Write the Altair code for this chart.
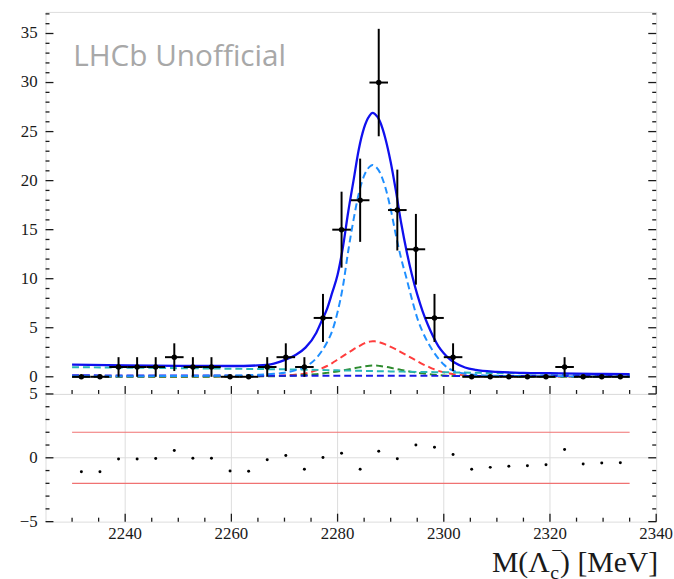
import altair as alt
import pandas as pd

# ---------------- data ----------------
bin_centers = [2231.75, 2235.25, 2238.75, 2242.25, 2245.75, 2249.25, 2252.75, 2256.25,
               2259.75, 2263.25, 2266.75, 2270.25, 2273.75, 2277.25, 2280.75, 2284.25,
               2287.75, 2291.25, 2294.75, 2298.25, 2301.75, 2305.25, 2308.75, 2312.25,
               2315.75, 2319.25, 2322.75, 2326.25, 2329.75, 2333.25]
counts = [0, 0, 1, 1, 1, 2, 1, 1, 0, 0, 1, 2, 1, 6, 15, 18, 30, 17, 13, 6, 2, 0, 0, 0, 0, 0, 1, 0, 0, 0]
pulls = [-1.09, -1.09, -0.10, -0.10, -0.05, 0.57, -0.03, -0.03, -1.03, -1.06,
         -0.16, 0.18, -0.90, 0.03, 0.36, -0.90, 0.52, -0.08, 1.01, 0.83,
         0.26, -0.90, -0.75, -0.67, -0.62, -0.54, 0.65, -0.49, -0.41, -0.39]

curve_x = [2230, 2240, 2250, 2260, 2265, 2268, 2270, 2272, 2274, 2276, 2277, 2278, 2279, 2280,
           2281, 2282, 2283, 2284, 2285, 2286, 2286.6, 2287, 2288, 2289, 2290, 2291, 2292,
           2293, 2294, 2295, 2296, 2297, 2298, 2299, 2300, 2301, 2302, 2304, 2306, 2310,
           2315, 2320, 2325, 2330, 2335]
total_fit = [1.25, 1.17, 1.12, 1.1, 1.16, 1.35, 1.7, 2.2, 3.0, 4.5, 5.7, 6.9, 8.6, 10.4,
             13.2, 16.8, 20.0, 23.2, 25.4, 26.6, 26.9, 26.8, 26.0, 24.3, 21.9, 18.9, 15.6,
             12.8, 10.4, 8.4, 6.7, 5.3, 4.1, 3.1, 2.4, 1.85, 1.45, 0.95, 0.7, 0.5,
             0.4, 0.36, 0.32, 0.3, 0.28]
signal_comp = [0.05, 0.06, 0.08, 0.12, 0.2, 0.3, 0.42, 0.65, 1.05, 1.9, 2.6, 3.5, 4.7, 6.6,
               9.2, 12.8, 16.0, 18.7, 20.5, 21.4, 21.6, 21.5, 20.8, 19.3, 17.1, 14.4, 12.0,
               10.0, 7.9, 6.0, 4.6, 3.5, 2.6, 1.86, 1.25, 0.82, 0.58, 0.32, 0.2, 0.1,
               0.07, 0.05, 0.04, 0.03, 0.03]
red_comp = [0.0, 0.0, 0.01, 0.03, 0.06, 0.1, 0.14, 0.22, 0.35, 0.65, 0.85, 1.1, 1.4, 1.75,
            2.1, 2.45, 2.8, 3.1, 3.4, 3.58, 3.63, 3.62, 3.5, 3.3, 3.05, 2.8, 2.5,
            2.2, 1.9, 1.6, 1.3, 1.05, 0.8, 0.6, 0.45, 0.35, 0.26, 0.15, 0.1, 0.05,
            0.03, 0.02, 0.01, 0.01, 0.0]
green_comp = [0.0, 0.0, 0.01, 0.02, 0.04, 0.06, 0.08, 0.12, 0.18, 0.27, 0.33, 0.4, 0.47, 0.55,
              0.64, 0.74, 0.85, 0.96, 1.06, 1.13, 1.15, 1.15, 1.1, 1.02, 0.92, 0.8, 0.7,
              0.6, 0.5, 0.42, 0.35, 0.28, 0.22, 0.17, 0.13, 0.1, 0.08, 0.05, 0.03, 0.02,
              0.01, 0.0, 0.0, 0.0, 0.0]
bkg_x = [2230, 2240, 2250, 2260, 2265, 2270, 2275, 2280, 2285, 2290, 2295, 2300, 2305,
         2310, 2315, 2320, 2325, 2330, 2335]
bkg_comp = [0.98, 0.93, 0.88, 0.82, 0.79, 0.76, 0.72, 0.66, 0.6, 0.55, 0.5, 0.46, 0.42,
            0.38, 0.35, 0.31, 0.28, 0.25, 0.22]
flat_x = [2230, 2260, 2290, 2335]
flat_comp = [0.15, 0.12, 0.10, 0.07]

x_major = [2240, 2260, 2280, 2300, 2320, 2340]
x_grid = [2240, 2260, 2280, 2300, 2320]
x_minor = [2230, 2235, 2245, 2250, 2255, 2265, 2270, 2275, 2285, 2290, 2295, 2305,
           2310, 2315, 2325, 2330, 2335]
y_major_top = [0, 5, 10, 15, 20, 25, 30, 35]
y_minor_top = [-1, 1, 2, 3, 4, 6, 7, 8, 9, 11, 12, 13, 14, 16, 17, 18, 19, 21, 22, 23, 24,
               26, 27, 28, 29, 31, 32, 33, 34, 36, 37]
y_major_res = [-5, 0, 5]
y_grid_res = [0]
y_minor_res = [-4, -3, -2, -1, 1, 2, 3, 4]
pull_band = [-2, 2]
band_start = [2230, 2230]
band_end = [2335, 2335]

# ---------------- style ----------------
W, H_TOP, H_RES = 617, 386, 129
INK = "#1a1a1a"
SERIF = "Liberation Serif"
GRID = "#dddddd"

xscale = alt.Scale(domain=[2225, 2340], nice=False, zero=False)
yscale_top = alt.Scale(domain=[-1.75, 37.2], nice=False, zero=False)
yscale_res = alt.Scale(domain=[-5, 5], nice=False, zero=False)


def XT(f):
    return alt.X(f, type="quantitative", scale=xscale, axis=None)


def YT(f):
    return alt.Y(f, type="quantitative", scale=yscale_top, axis=None)


def YR(f):
    return alt.Y(f, type="quantitative", scale=yscale_res, axis=None)


def curve(xs, ys, color, dash=None, width=2.0):
    df = pd.DataFrame({"x": xs, "y": ys})
    kw = dict(color=color, strokeWidth=width, interpolate="monotone")
    if dash:
        kw["strokeDash"] = dash
    return alt.Chart(df).mark_line(**kw).encode(x=XT("x"), y=YT("y"))


def ticks(Y, yvals_major, yvals_minor, H):
    layers = []
    for vals, ln in ((x_major, 8), (x_minor, 4)):
        df = pd.DataFrame({"v": vals})
        layers.append(alt.Chart(df).mark_rule(color=INK, strokeWidth=1.3).encode(
            x=XT("v"), y=alt.value(H), y2=alt.value(H - ln)))
    for vals, ln in ((yvals_major, 8), (yvals_minor, 4)):
        df = pd.DataFrame({"v": vals})
        layers.append(alt.Chart(df).mark_rule(color=INK, strokeWidth=1.3).encode(
            y=Y("v"), x=alt.value(0), x2=alt.value(ln)))
        layers.append(alt.Chart(df).mark_rule(color=INK, strokeWidth=1.3).encode(
            y=Y("v"), x=alt.value(W - ln), x2=alt.value(W)))
    return layers


def ylabels(Y, vals):
    df = pd.DataFrame({"v": vals})
    return alt.Chart(df).mark_text(font=SERIF, fontSize=17, color=INK, align="right",
                                   baseline="middle").encode(
        y=Y("v"), x=alt.value(-8), text=alt.Text("v:Q", format="d"))


def text_at(t, x, y, size, align="left", font=SERIF, color=INK):
    return alt.Chart(pd.DataFrame({"t": [t]})).mark_text(
        font=font, fontSize=size, color=color, align=align, baseline="alphabetic"
    ).encode(x=alt.value(x), y=alt.value(y), text="t:N")


# ---------------- top panel ----------------
data_df = pd.DataFrame({"c": bin_centers, "n": counts})
base = alt.Chart(data_df).transform_calculate(
    lo="datum.c - 1.75", hi="datum.c + 1.75",
    elo="datum.n - sqrt(datum.n)", ehi="datum.n + sqrt(datum.n)")

hbars = base.mark_rule(color="black", strokeWidth=2).encode(x=XT("lo"), x2="hi:Q", y=YT("n"))
vbars = base.transform_filter("datum.n > 0").mark_rule(color="black", strokeWidth=2).encode(
    x=XT("c"), y=YT("elo"), y2="ehi:Q")
pts = base.mark_circle(color="black", size=30, opacity=1).encode(x=XT("c"), y=YT("n"))

lhcb = text_at("LHCb Unofficial", 28, 55, 30, font="Open Sans", color="#a8a8a8")

DASH = [7, 4]
top_layers = [
    curve(curve_x, red_comp, "#ff3d3d", DASH),
    curve(curve_x, green_comp, "#2e8b2e", DASH),
    curve(bkg_x, bkg_comp, "#2ab7b7", DASH),
    curve(flat_x, flat_comp, "#1a1ae6", DASH),
    curve(curve_x, signal_comp, "#1f8fff", DASH),
    curve(curve_x, total_fit, "#1010ee", None, 2.3),
    hbars, vbars, pts, lhcb, ylabels(YT, y_major_top),
] + ticks(YT, y_major_top, y_minor_top, H_TOP)

top = alt.layer(*top_layers).properties(width=W, height=H_TOP)

# ---------------- residual panel ----------------
xgrid = alt.Chart(pd.DataFrame({"v": x_grid})).mark_rule(color=GRID, strokeWidth=1).encode(
    x=XT("v"), y=alt.value(0), y2=alt.value(H_RES))
ygrid = alt.Chart(pd.DataFrame({"v": y_grid_res})).mark_rule(color=GRID, strokeWidth=1).encode(
    y=YR("v"), x=alt.value(0), x2=alt.value(W))

res_df = pd.DataFrame({"c": bin_centers, "p": pulls})
band_df = pd.DataFrame({"y": pull_band, "x0": band_start, "x1": band_end})
bands = alt.Chart(band_df).mark_rule(color="#f07272", strokeWidth=1.2).encode(
    x=XT("x0"), x2="x1:Q", y=YR("y"))
rpts = alt.Chart(res_df).mark_circle(color="black", size=9, opacity=1).encode(
    x=XT("c"), y=YR("p"))

xlabels = alt.Chart(pd.DataFrame({"v": x_major})).mark_text(
    font=SERIF, fontSize=17, color=INK, align="center", baseline="top").encode(
    x=XT("v"), y=alt.value(H_RES + 5), text=alt.Text("v:Q", format="d"))

lab_main = text_at("M(Λ", 451, 180, 30)
lab_sub = text_at("c", 510, 187, 20)
lab_sup = text_at("−", 511, 165, 20)
lab_end = text_at(") [MeV]", 619, 180, 30, align="right")

res_layers = [xgrid, ygrid, bands, rpts, xlabels, ylabels(YR, y_major_res),
              lab_main, lab_sub, lab_sup, lab_end] + ticks(YR, y_major_res, y_minor_res, H_RES)
bottom = alt.layer(*res_layers).properties(width=W, height=H_RES)

chart = alt.vconcat(top, bottom, spacing=0, bounds="flush").properties(
    padding={"left": 19, "top": 8, "right": 0, "bottom": 0}
).configure_view(stroke=INK, strokeWidth=1.6).configure(background="white")

chart.save("out.html", embed_options={"renderer": "svg", "actions": False})
